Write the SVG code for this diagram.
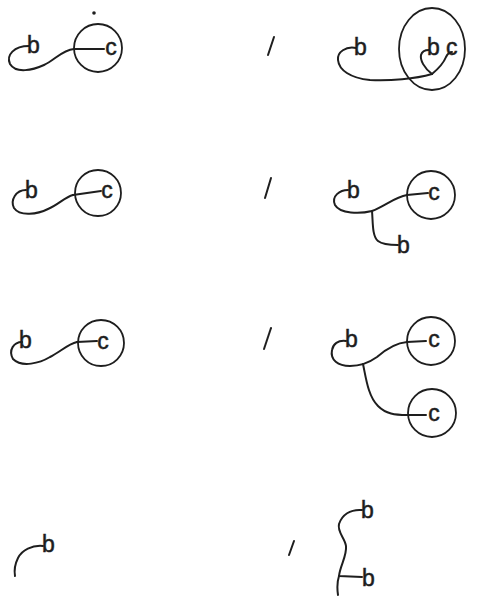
<svg xmlns="http://www.w3.org/2000/svg" width="479" height="596" viewBox="0 0 479 596">
<style>
.s{fill:none;stroke:#1e1e1e;stroke-width:2;stroke-linecap:round;stroke-linejoin:round}
.o{fill:none;stroke:#1e1e1e;stroke-width:1.8}
.t{font-family:"Liberation Sans",Arial,sans-serif;font-size:23px;fill:#1e1e1e;stroke:#1e1e1e;stroke-width:0.5}
.m{text-anchor:middle}
</style>
<rect width="479" height="596" fill="#ffffff"/>
<!-- row 1 -->
<g id="r1-left-b"><text class="t" x="27" y="53">b</text></g>
<g id="r1-left-c"><circle cx="94" cy="13" r="1.8" fill="#1e1e1e"/><circle class="o" cx="98" cy="48" r="24"/><text class="t m" x="111" y="55">c</text></g>
<g id="r1-slash"><path class="s" d="M274,37 L268,55"/></g>
<g id="r1-right-b"><text class="t" x="354" y="55">b</text></g>
<g id="r1-right-bc"><ellipse class="o" cx="432" cy="49" rx="33" ry="41"/><text class="t" x="427" y="55">b</text><text class="t" x="446" y="55">c</text></g>
<!-- row 2 -->
<g id="r2-left-b"><text class="t" x="25" y="198">b</text></g>
<g id="r2-left-c"><circle class="o" cx="98" cy="193" r="23"/><text class="t m" x="107" y="198">c</text></g>
<g id="r2-slash"><path class="s" d="M271,178 L265,198"/></g>
<g id="r2-right-b1"><text class="t" x="347" y="198">b</text></g>
<g id="r2-right-c"><circle class="o" cx="431" cy="195" r="24"/><text class="t m" x="434" y="200">c</text></g>
<g id="r2-right-b2"><text class="t" x="397" y="253">b</text></g>
<!-- row 3 -->
<g id="r3-left-b"><text class="t" x="19" y="348">b</text></g>
<g id="r3-left-c"><circle class="o" cx="101" cy="343" r="23"/><text class="t m" x="103" y="349">c</text></g>
<g id="r3-slash"><path class="s" d="M271,328 L264,349"/></g>
<g id="r3-right-b"><text class="t" x="345" y="347">b</text></g>
<g id="r3-right-c1"><circle class="o" cx="431" cy="341" r="24"/><text class="t m" x="434" y="347">c</text></g>
<g id="r3-right-c2"><circle class="o" cx="432" cy="413" r="24"/><text class="t m" x="434" y="421">c</text></g>
<!-- row 4 -->
<g id="r4-left-b"><text class="t" x="42" y="552">b</text></g>
<g id="r4-slash"><path class="s" d="M294,541 L289,555"/></g>
<g id="r4-right-b1"><text class="t" x="361" y="518">b</text></g>
<g id="r4-right-b2"><text class="t" x="362" y="586">b</text></g>
<!-- connectors -->
<g id="connectors">
<path class="s" d="M74,49 H104"/>
<path class="s" d="M74,49 C62,50 55,60 44,65 C33,70 16,74 10,64 C6,55 14,46 29,46"/>
<path class="s" d="M356,48 C346,46 337,52 338,60 C339,70 350,78 370,80 C390,81 415,79 432,74"/>
<path class="s" d="M432,74 C424,68 420,60 421,55 C422,51 425,50 429,50"/>
<path class="s" d="M432,74 C438,69 444,62 446,57 C448,53 450,52 452,52"/>
<path class="s" d="M73,195 L101,191"/>
<path class="s" d="M73,195 C65,197 58,205 48,209 C38,214 20,217 14,208 C10,200 16,190 26,190"/>
<path class="s" d="M407,195 L428,193"/>
<path class="s" d="M407,195 C395,197 385,206 372,211 C360,214 340,214 335,205 C331,196 340,190 348,190"/>
<path class="s" d="M372,211 C373,222 372,236 378,241 C383,245 392,245 398,245"/>
<path class="s" d="M77,342 L97,341"/>
<path class="s" d="M77,342 C68,344 60,352 50,357 C40,363 22,368 13,359 C8,350 14,342 22,342"/>
<path class="s" d="M407,342 L426,341"/>
<path class="s" d="M407,342 C395,343 385,350 377,357 C370,362 362,366 350,366 C338,366 330,360 332,350 C333,344 338,340 346,341"/>
<path class="s" d="M363,364 C366,378 368,396 378,406 C386,414 395,415 407,415 L426,415"/>
<path class="s" d="M43,546 C32,545 22,550 18,558 C15,564 14,570 15,576"/>
<path class="s" d="M362,510 C350,509 342,515 339,524 C337,532 345,538 346,546 C347,556 340,566 339,576 L362,577"/>
<path class="s" d="M339,576 C337,582 337,588 338,595"/>
</g>
</svg>
